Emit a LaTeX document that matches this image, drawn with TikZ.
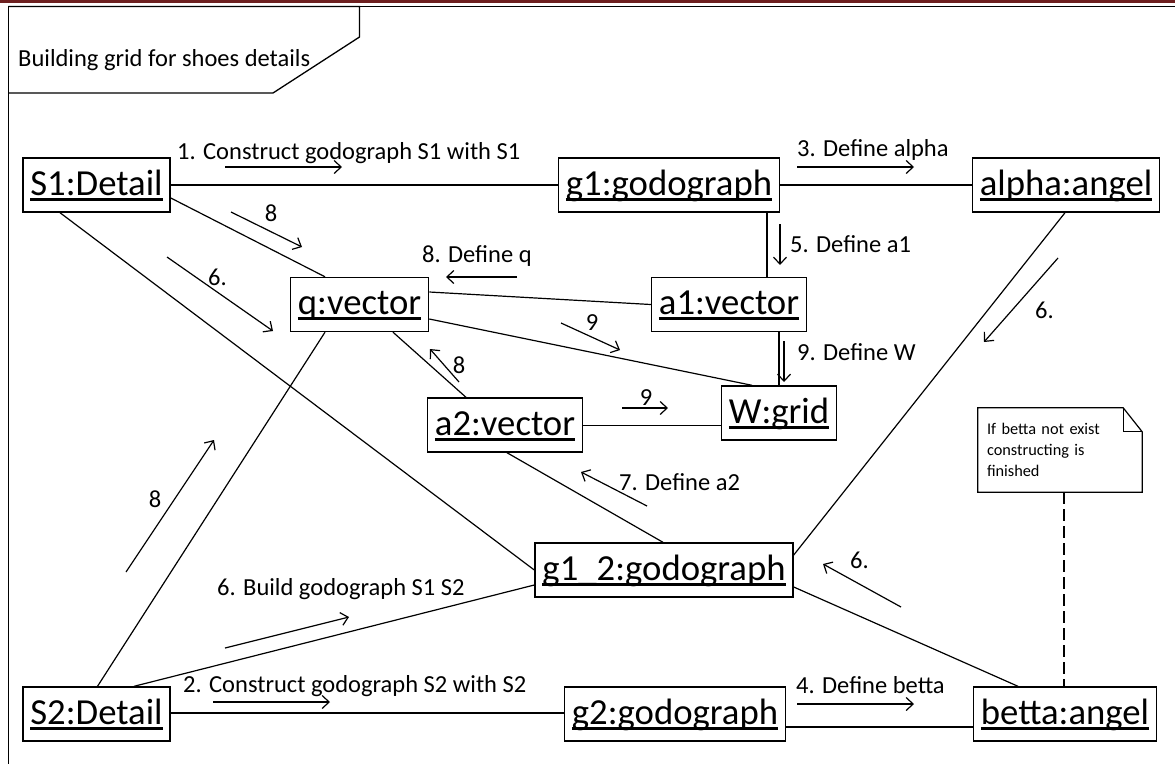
\documentclass[tikz,border=0pt]{standalone}
\usepackage{fontspec}
\setmainfont{Carlito}
\usetikzlibrary{arrows.meta,calc}
\definecolor{barred}{RGB}{110,32,32}
% object name with a heavy underline crossing the descenders
\newcommand\objtext[1]{\setbox0\hbox{#1}\rlap{\rule[-5.6pt]{\wd0}{2.7pt}}\box0}

\begin{document}
\begin{tikzpicture}[x=1pt,y=-1pt,
  obj/.style={draw, line width=1.4pt, inner xsep=7.5pt, inner ysep=0pt,
    minimum height=54pt, text height=27pt, text depth=7pt,
    font=\fontsize{36.7}{44}\selectfont},
  link/.style={line width=1.2pt},
  msg/.style={line width=1.2pt, -{Straight Barb[length=7pt,width=13pt]}},
  lbl/.style={anchor=base west, inner sep=0pt, font=\fontsize{24.5}{29}\selectfont},
  numlbl/.style={anchor=base, inner sep=0pt, font=\fontsize{24.5}{29}\selectfont},
  notebox/.style={minimum width=164pt, minimum height=84pt, text width=146pt,
    inner xsep=9pt, inner ysep=0pt, align=left,
    font=\fontsize{16.3}{21.3}\selectfont},
  frameline/.style={line width=1.6pt}]

\useasboundingbox (0,0) rectangle (1175,764);

% page rule and diagram frame
\fill[barred] (0,0) rectangle (1175,2.8);
\draw[frameline] (1175,6.5) -- (8.3,6.5) -- (8.3,764);
\draw[line width=1.3pt] (8.3,6.5) -- (359.5,6.5) -- (359.5,37) -- (273,93) -- (8.3,93);
\node[lbl] (frametitle) at (18,66) {Building grid for shoes details};

% objects
\node[obj] (S1)    at (96.5,185)  {\objtext{S1:Detail}};
\node[obj] (g1)    at (669,185)   {\objtext{g1:godograph}};
\node[obj] (alpha) at (1066,185)  {\objtext{alpha:angel}};
\node[obj] (q)     at (359.5,304.5) {\objtext{q:vector}};
\node[obj] (a1)    at (729,304.5) {\objtext{a1:vector}};
\node[obj] (W)     at (779,413)   {\objtext{W:grid}};
\node[obj] (a2)    at (505,425)   {\objtext{a2:vector}};
\node[obj] (g12)   at (664,570)   {\objtext{g1\_2:godograph}};
\node[obj] (S2)    at (96.5,714)  {\objtext{S2:Detail}};
\node[obj] (g2)    at (675,714)   {\objtext{g2:godograph}};
\node[obj] (betta) at (1065,714)  {\objtext{betta:angel}};

% note
\node[notebox] (note) at (1060,450) {If betta not exist\\constructing is\\finished};
\draw[line width=1.2pt] (note.north west) -- ($(note.north east)+(-19,0)$)
  -- ($(note.north east)+(0,24)$) -- (note.south east) -- (note.south west) -- cycle;
\draw[line width=1.2pt] ($(note.north east)+(-19,0)$) -- ($(note.north east)+(-19,24)$)
  -- ($(note.north east)+(0,24)$);
\draw[line width=1.2pt, dash pattern=on 12pt off 5pt]
  ($(note.south)+(4,0)$) -- ($(betta.north)+(-1,0)$);

% links
\draw[link] (S1.east) -- (g1.west);
\draw[link] (g1.east) -- (alpha.west);
\draw[link] ($(S1.east)+(0,13)$) -- ($(q.north)+(-34.5,0)$);
\draw[link] ($(S1.south)+(-36.5,0)$) -- (g12.west);
\draw[link] ($(S2.north)+(1,0)$) -- ($(q.south)+(-34.5,0)$);
\draw[link] ($(S2.north)+(37.5,0)$) -- ($(g12.west)+(0,15)$);
\draw[link] ($(S2.east)+(0,-1)$) -- ($(g2.west)+(0,-1)$);
\draw[link] ($(g2.east)+(0,13)$) -- ($(betta.west)+(0,13)$);
\draw[link] ($(g1.south)+(98,0)$) -- ($(a1.north)+(38,0)$);
\draw[link] ($(a1.south)+(50,0)$) -- (W.north);
\draw[link] ($(q.east)+(0,-12.5)$) -- (a1.west);
\draw[link] ($(q.east)+(0,14.5)$) -- ($(W.north)+(-27,0)$);
\draw[link] ($(q.south)+(33.5,0)$) -- ($(a2.north)+(-39,0)$);
\draw[link] ($(a2.east)+(0,0.5)$) -- ($(W.west)+(0,12.5)$);
\draw[link] ($(a2.south)+(2,0)$) -- ($(g12.north)+(-1,0)$);
\draw[link] ($(g12.east)+(0,-15)$) -- ($(alpha.south)+(-1,0)$);
\draw[link] ($(g12.east)+(0,17)$) -- ($(betta.north)+(-47,0)$);

% messages
\draw[msg] (225,167) -- (342,167);
\node[lbl] (m1) at (177,159) {1. Construct godograph S1 with S1};
\draw[msg] (797,167) -- (914,167);
\node[lbl] (m3) at (797,156) {3. Define alpha};
\draw[msg] (780,224) -- (780,265);
\node[lbl] (m5) at (790,252) {5. Define a1};
\draw[msg] (784,341) -- (784,382);
\node[lbl] (m9) at (797,360) {9. Define W};
\draw[msg] (1058,258) -- (984,342);
\node[lbl] (m6a) at (1035,318) {6.};
\draw[msg] (517,277) -- (446,277);
\node[lbl] (m8q) at (422,262) {8. Define q};
\draw[msg] (561,323) -- (620,350);
\node[numlbl] (m9q) at (592,330) {9};
\draw[msg] (459,382) -- (430,349);
\node[numlbl] (m8a) at (459,373) {8};
\draw[msg] (622,408) -- (668,408);
\node[numlbl] (m9a) at (646,405) {9};
\draw[msg] (231,212) -- (302,247);
\node[numlbl] (m8s) at (271,221) {8};
\draw[msg] (167,257) -- (273,331);
\node[lbl] (m6s) at (208,285) {6.};
\draw[msg] (126,572) -- (214,440);
\node[numlbl] (m8t) at (155,507) {8};
\draw[msg] (225,648) -- (349,617);
\node[lbl] (m6b) at (217,595) {6. Build godograph S1 S2};
\draw[msg] (213,702) -- (330,702);
\node[lbl] (m2) at (183,692) {2. Construct godograph S2 with S2};
\draw[msg] (647,506) -- (581,472);
\node[lbl] (m7) at (619,490) {7. Define a2};
\draw[msg] (901,607) -- (823,564);
\node[lbl] (m6g) at (850,568) {6.};
\draw[msg] (797,704) -- (914,704);
\node[lbl] (m4) at (796,693) {4. Define betta};

\end{tikzpicture}
\end{document}
